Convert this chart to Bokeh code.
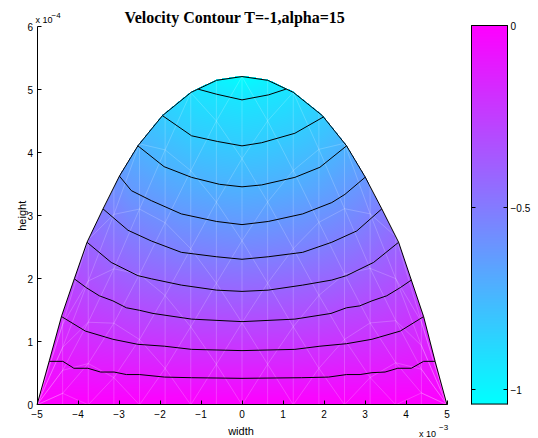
import numpy as np
from bokeh.plotting import figure
from bokeh.models import (Label, LinearColorMapper, FixedTicker, Range1d,
                          LinearAxis)
from bokeh.embed import file_html
from bokeh.resources import INLINE

# ---------------- data (x in units of 1e-3, y in units of 1e-4) -------------
title_text = "Velocity Contour T=-1,alpha=15"
x_label = "width"
y_label = "height"
x_ticks = [-5, -4, -3, -2, -1, 0, 1, 2, 3, 4, 5]
x_tick_labels = ["\u22125", "\u22124", "\u22123", "\u22122", "\u22121", "0",
                 "1", "2", "3", "4", "5"]
y_ticks = [0, 1, 2, 3, 4, 5, 6]
y_tick_labels = ["0", "1", "2", "3", "4", "5", "6"]
cb_ticks = [-1, -0.5, 0]
cb_tick_labels = ["\u22121", "\u22120.5", "0"]

v_min = -1.04
v_max = 0.0

# domain boundary (free surface)
bound_x = [-5, -4.70, -4.40, -4.09, -3.78, -3.39, -2.99, -2.54, -1.94, -1.24,
           -0.62, 0, 0.63, 1.25, 1.96, 2.55, 3.00, 3.41, 3.82, 4.13, 4.43,
           4.71, 5]
bound_y = [0, 0.70, 1.41, 2.00, 2.58, 3.11, 3.63, 4.11, 4.59, 4.96, 5.15,
           5.21, 5.15, 4.96, 4.59, 4.11, 3.62, 3.11, 2.58, 1.98, 1.40, 0.69, 0]

# contour levels and contour lines
levels = [-0.104, -0.208, -0.312, -0.416, -0.520, -0.624, -0.728, -0.832,
          -0.936]
c1_x = [-4.70, -4.37, -4.10, -3.76, -3.45, -3.12, -2.82, -2.50, -1.89, -1.23,
        0, 1.45, 2.11, 2.55, 2.88, 3.17, 3.49, 3.80, 4.13, 4.43, 4.71]
c1_y = [0.69, 0.69, 0.58, 0.58, 0.52, 0.52, 0.48, 0.48, 0.44, 0.43, 0.42,
        0.43, 0.44, 0.48, 0.48, 0.51, 0.52, 0.58, 0.58, 0.69, 0.69]
c2_x = [-4.40, -3.82, -3.15, -2.54, -1.89, -1.23, 0, 1.29, 1.90, 2.55, 3.17,
        3.86, 4.43]
c2_y = [1.40, 1.17, 1.04, 0.96, 0.93, 0.88, 0.86, 0.88, 0.93, 0.97, 1.04,
        1.17, 1.40]
c3_x = [-4.09, -3.80, -3.48, -3.15, -2.82, -2.50, -2.17, -1.23, 0, 1.29,
        2.17, 2.55, 2.87, 3.17, 3.53, 3.86, 4.13]
c3_y = [2.00, 1.86, 1.73, 1.65, 1.54, 1.50, 1.45, 1.36, 1.32, 1.36, 1.45,
        1.54, 1.57, 1.65, 1.73, 1.86, 1.98]
c4_x = [-3.78, -3.19, -2.54, -2.21, -1.48, -0.62, 0, 0.64, 1.48, 2.19, 2.55,
        3.21, 3.82]
c4_y = [2.58, 2.26, 2.05, 2.00, 1.90, 1.82, 1.80, 1.82, 1.90, 1.98, 2.05,
        2.26, 2.58]
c5_x = [-3.39, -2.78, -2.21, -1.48, -0.62, 0, 0.64, 1.48, 2.19, 2.80, 3.41]
c5_y = [3.11, 2.77, 2.60, 2.42, 2.35, 2.31, 2.35, 2.42, 2.58, 2.76, 3.11]
c6_x = [-2.99, -2.70, -2.21, -1.48, -0.62, 0, 0.64, 1.48, 2.19, 2.51, 3.00]
c6_y = [3.63, 3.40, 3.24, 3.03, 2.91, 2.86, 2.91, 3.03, 3.21, 3.34, 3.61]
c7_x = [-2.54, -1.90, -1.23, -0.55, 0, 0.48, 1.29, 1.90, 2.55]
c7_y = [4.11, 3.78, 3.61, 3.50, 3.46, 3.49, 3.61, 3.77, 4.11]
c8_x = [-1.94, -1.23, -0.60, 0, 0.48, 1.29, 1.99]
c8_y = [4.59, 4.27, 4.18, 4.11, 4.16, 4.31, 4.57]
c9_x = [-1.07, -0.62, 0, 0.65, 1.07]
c9_y = [5.01, 4.93, 4.84, 4.92, 5.01]

contour_xs = [c1_x, c2_x, c3_x, c4_x, c5_x, c6_x, c7_x, c8_x, c9_x]
contour_ys = [c1_y, c2_y, c3_y, c4_y, c5_y, c6_y, c7_y, c8_y, c9_y]

# finite element mesh columns (x) and rows per column
mesh_cols = [-5, -4.375, -3.75, -3.125, -2.5, -1.875, -1.25, -0.625, 0,
             0.625, 1.25, 1.875, 2.5, 3.125, 3.75, 4.375, 5]
mesh_rows = 8

# ---------------- build colour field from contours ---------------------------
bv_x = [-5] + [cx[0] for cx in contour_xs] + [0] + \
       [cx[-1] for cx in reversed(contour_xs)] + [5]
bv_v = [v_max] + list(levels) + [v_min] + list(reversed(levels)) + [v_max]

NX, NY = 410, 330
Y_TOP = 5.25
xc = -5 + (np.arange(NX) + 0.5) * 10.0 / NX
yc = (np.arange(NY) + 0.5) * Y_TOP / NY
Z = np.full((NY, NX), np.nan)
for i, x in enumerate(xc):
    yb = np.interp(x, bound_x, bound_y)
    vb = np.interp(x, bv_x, bv_v)
    pts = [(0.0, v_max)]
    for cx, cy, lv in zip(contour_xs, contour_ys, levels):
        if cx[0] <= x <= cx[-1]:
            yy = min(np.interp(x, cx, cy), yb - 1e-6)
            pts.append((yy, lv))
    pts.append((yb, vb))
    pts.sort()
    ys = [q[0] for q in pts]
    vs = [q[1] for q in pts]
    col = np.interp(yc, ys, vs)
    col[yc > yb] = np.nan
    Z[:, i] = col

# MATLAB "cool" colormap
palette = ["#%02x%02x%02x" % (int(round(255 * t)), int(round(255 * (1 - t))), 255)
           for t in np.linspace(0, 1, 256)]
mapper = LinearColorMapper(palette=palette, low=v_min, high=v_max,
                           nan_color=(0, 0, 0, 0))

# ---------------- layout constants (pixels of the 538x438 canvas) ------------
W, H = 538, 438
X0_PX, UX = 241.5, 41.0        # x=0 position, pixels per unit
Y0_PX, UY = 404.3, 63.0        # y=0 position, pixels per unit
CB_TOP_PX, CB_UNIT = 25.0, 364.0
CB_LEFT_PX, CB_RIGHT_PX = 471.0, 507.0

x_range = Range1d(-X0_PX / UX, (W - X0_PX) / UX)
y_range = Range1d(-(H - Y0_PX) / UY, Y0_PX / UY)
cb_range = Range1d(-(H - CB_TOP_PX) / CB_UNIT, CB_TOP_PX / CB_UNIT)

p = figure(width=W, height=H, x_range=x_range, y_range=y_range,
           output_backend="svg", toolbar_location=None, title=None,
           x_axis_location=None, y_axis_location=None, min_border=0)
p.extra_y_ranges = {"cb": cb_range}
p.outline_line_color = None
p.grid.visible = False
p.background_fill_color = "white"
p.border_fill_color = "white"

# colour field
p.image(image=[Z], x=-5, y=0, dw=10, dh=Y_TOP, color_mapper=mapper)

# mesh (faint white edges)
mh = np.interp(mesh_cols, bound_x, bound_y)
seg_x, seg_y = [], []
for i in range(len(mesh_cols)):
    seg_x.append([mesh_cols[i], mesh_cols[i]])
    seg_y.append([0, mh[i]])
for i in range(len(mesh_cols) - 1):
    for j in range(mesh_rows):
        y0a = mh[i] * j / mesh_rows
        y1a = mh[i] * (j + 1) / mesh_rows
        y0b = mh[i + 1] * j / mesh_rows
        y1b = mh[i + 1] * (j + 1) / mesh_rows
        seg_x.append([mesh_cols[i], mesh_cols[i + 1]])
        if (i + j) % 2 == 0:
            seg_y.append([y0a, y1b])
        else:
            seg_y.append([y1a, y0b])
p.multi_line(xs=seg_x, ys=seg_y, line_color="white", line_alpha=0.28,
             line_width=0.7)

# contours and boundary
p.multi_line(xs=contour_xs, ys=contour_ys, line_color="black", line_width=1)
p.line(bound_x, bound_y, line_color="black", line_width=1)


def style_axis(ax, standoff):
    ax.axis_line_color = "black"
    ax.major_tick_line_color = "black"
    ax.major_tick_in = 4
    ax.major_tick_out = 0
    ax.minor_tick_line_color = None
    ax.major_label_text_font = "Liberation Sans"
    ax.major_label_text_font_size = "10px"
    ax.major_label_text_color = "black"
    ax.major_label_standoff = standoff


xaxis = LinearAxis(fixed_location=0, bounds=(-5, 5),
                   ticker=FixedTicker(ticks=x_ticks))
style_axis(xaxis, 5)
xaxis.major_label_overrides = {float(t): s for t, s in zip(x_ticks, x_tick_labels)}
p.add_layout(xaxis, "below")

yaxis = LinearAxis(fixed_location=-5, bounds=(0, 6),
                   ticker=FixedTicker(ticks=y_ticks))
style_axis(yaxis, 4)
yaxis.major_label_overrides = {float(t): s for t, s in zip(y_ticks, y_tick_labels)}
p.add_layout(yaxis, "left")

# colorbar
cb_x0 = (CB_LEFT_PX - X0_PX) / UX
cb_x1 = (CB_RIGHT_PX - X0_PX) / UX
cb = np.linspace(v_min, v_max, 256).reshape(256, 1)
p.image(image=[cb], x=cb_x0, y=v_min, dw=cb_x1 - cb_x0, dh=v_max - v_min,
        color_mapper=mapper, y_range_name="cb")
p.quad(left=[cb_x0], right=[cb_x1], bottom=[v_min], top=[v_max],
       fill_color=None, line_color="black", line_width=1, y_range_name="cb")

cb_right = LinearAxis(y_range_name="cb", fixed_location=cb_x1,
                      bounds=(v_min, v_max), ticker=FixedTicker(ticks=cb_ticks))
style_axis(cb_right, 3)
cb_right.major_label_overrides = {float(t): s for t, s in zip(cb_ticks, cb_tick_labels)}
p.add_layout(cb_right, "right")

cb_left = LinearAxis(y_range_name="cb", fixed_location=cb_x0,
                     bounds=(v_min, v_max), ticker=FixedTicker(ticks=cb_ticks))
style_axis(cb_left, 0)
cb_left.major_label_overrides = {float(t): "" for t in cb_ticks}
p.add_layout(cb_left, "left")

# texts
lab_font = "Liberation Sans"
p.add_layout(Label(x=0, y=6, x_offset=-7, y_offset=9, text=title_text,
                   text_align="center", text_baseline="alphabetic",
                   text_font="Liberation Serif", text_font_style="bold",
                   text_font_size="16px", text_color="black"))
p.add_layout(Label(x=-5, y=6, x_offset=-1.5, y_offset=7, text="x 10",
                   text_font=lab_font, text_font_size="9px",
                   text_baseline="alphabetic", text_color="black"))
p.add_layout(Label(x=-5, y=6, x_offset=14.5, y_offset=11, text="\u22124",
                   text_font=lab_font, text_font_size="8px",
                   text_baseline="alphabetic", text_color="black"))
p.add_layout(Label(x=5, y=0, x_offset=-28, y_offset=-29, text="x 10",
                   text_font=lab_font, text_font_size="9px",
                   text_baseline="alphabetic", text_color="black"))
p.add_layout(Label(x=5, y=0, x_offset=-8, y_offset=-22.5, text="\u22123",
                   text_font=lab_font, text_font_size="8px",
                   text_baseline="alphabetic", text_color="black"))
p.add_layout(Label(x=0, y=0, x_offset=-1, y_offset=-26, text=x_label,
                   text_align="center", text_font=lab_font,
                   text_font_size="11px", text_baseline="alphabetic",
                   text_color="black"))
p.add_layout(Label(x=-5, y=3, x_offset=-15, text=y_label, angle=np.pi / 2,
                   text_align="center", text_baseline="alphabetic",
                   text_font=lab_font, text_font_size="11px",
                   text_color="black"))

open("out.html", "w").write(file_html(p, INLINE))
